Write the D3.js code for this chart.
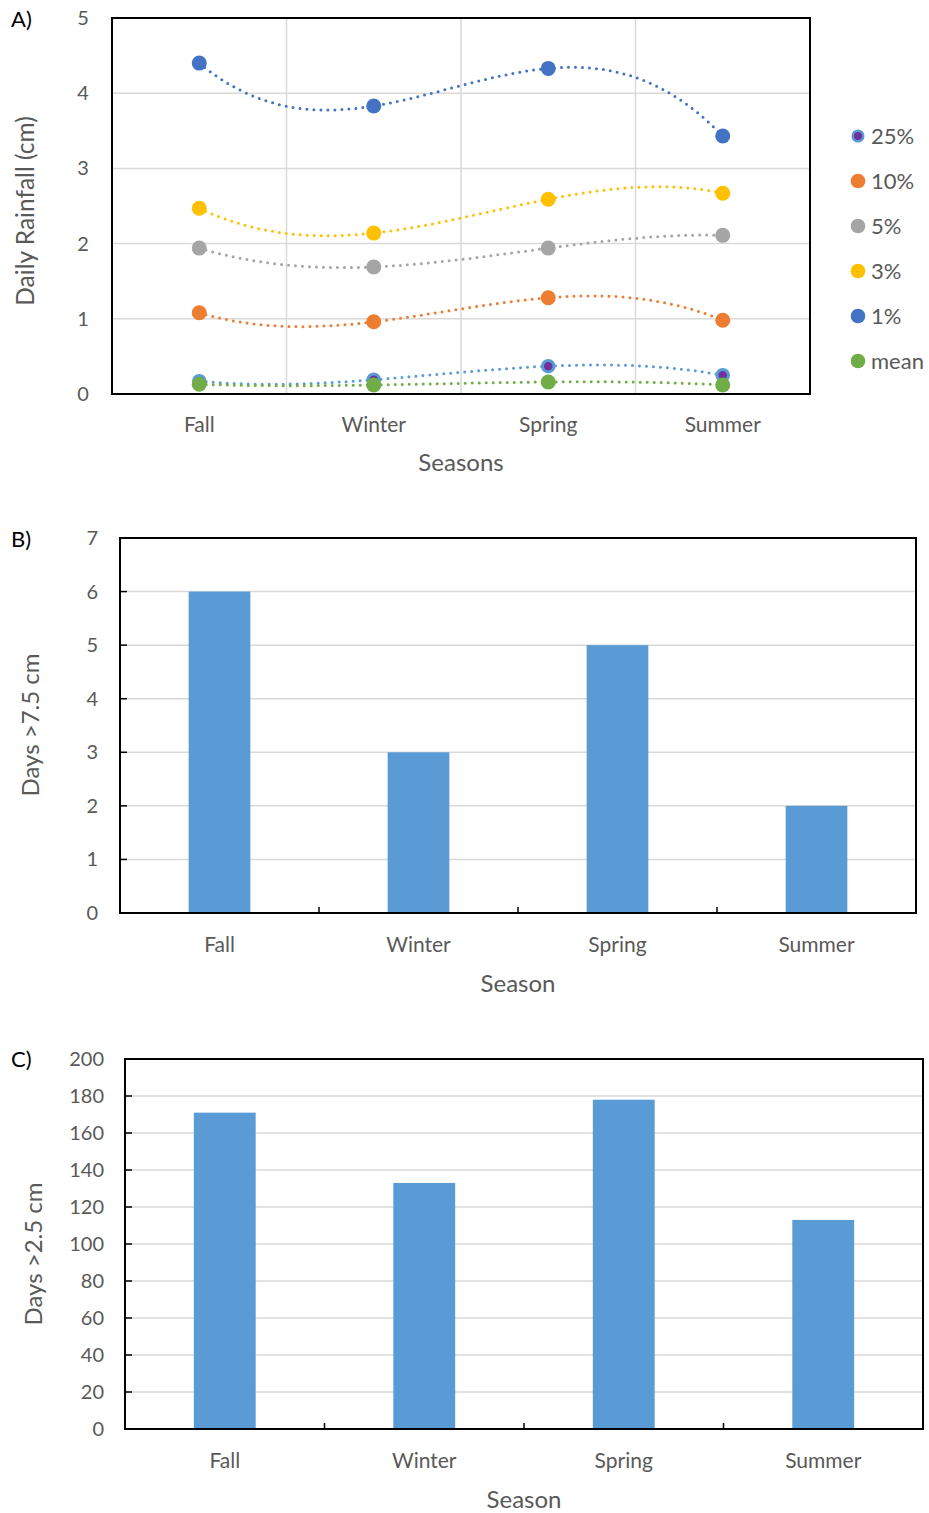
<!DOCTYPE html>
<html>
<head>
<meta charset="utf-8">
<script src="https://cdn.jsdelivr.net/npm/d3@7"></script>
<style>
  body { margin: 0; background: #fff; }
  svg text { font-family: Lato, "Open Sans", sans-serif; fill: #595959; }
</style>
</head>
<body>
<svg id="chart" width="929" height="1513"></svg>
<script>
const seasons = ["Fall", "Winter", "Spring", "Summer"];

// panel A: daily rainfall by exceedance level
const pct25 = [0.17, 0.19, 0.37, 0.25];
const pct10 = [1.08, 0.96, 1.28, 0.98];
const pct5 = [1.94, 1.69, 1.94, 2.11];
const pct3 = [2.47, 2.14, 2.59, 2.67];
const pct1 = [4.40, 3.83, 4.33, 3.43];
const meanRain = [0.13, 0.12, 0.16, 0.12];
const rainTicks = [0, 1, 2, 3, 4, 5];

// panel B and C
const daysOver75 = [6, 3, 5, 2];
const daysTicksB = [0, 1, 2, 3, 4, 5, 6, 7];
const daysOver25 = [171, 133, 178, 113];
const daysTicksC = [0, 20, 40, 60, 80, 100, 120, 140, 160, 180, 200];

const series = [
  { name: "25%", values: pct25, fill: "#7030A0", stroke: "#5B9BD5", line: "#5B9BD5" },
  { name: "10%", values: pct10, fill: "#ED7D31", stroke: "#ED7D31", line: "#ED7D31" },
  { name: "5%", values: pct5, fill: "#A5A5A5", stroke: "#A5A5A5", line: "#A5A5A5" },
  { name: "3%", values: pct3, fill: "#FFC000", stroke: "#FFC000", line: "#FFC000" },
  { name: "1%", values: pct1, fill: "#4472C4", stroke: "#4472C4", line: "#4472C4" },
  { name: "mean", values: meanRain, fill: "#70AD47", stroke: "#70AD47", line: "#70AD47" }
];

const svg = d3.select("#chart");

function panelLabel(text, y) {
  svg.append("text").attr("x", 11).attr("y", y).text(text)
    .style("font-size", "22px").style("fill", "#000");
}

// order-3 polynomial trendline: with 4 points it passes through all of them
function polyTrend(vals) {
  return t => d3.sum(vals, (v, i) => {
    let w = 1;
    vals.forEach((_, j) => { if (j !== i) w *= (t - j) / (i - j); });
    return v * w;
  });
}

// ---------- Panel A ----------
(function () {
  const left = 112, right = 810, top = 18, bottom = 394;
  const x = d3.scaleBand().domain(seasons).range([left, right]);
  const y = d3.scaleLinear().domain([0, 5]).range([bottom, top]);
  const xi = d3.scaleLinear().domain([0, seasons.length - 1])
    .range([x(seasons[0]) + x.bandwidth() / 2, x(seasons[seasons.length - 1]) + x.bandwidth() / 2]);
  const g = svg.append("g");

  // gridlines
  g.selectAll(".hgrid").data(rainTicks.slice(1)).enter().append("line")
    .attr("x1", left).attr("x2", right)
    .attr("y1", d => y(d)).attr("y2", d => y(d))
    .attr("stroke", "#d9d9d9").attr("stroke-width", 1.5);
  g.selectAll(".vgrid").data(seasons.slice(1)).enter().append("line")
    .attr("x1", d => x(d)).attr("x2", d => x(d))
    .attr("y1", top).attr("y2", bottom)
    .attr("stroke", "#d9d9d9").attr("stroke-width", 1.5);

  g.append("rect").attr("x", left).attr("y", top)
    .attr("width", right - left).attr("height", bottom - top)
    .attr("fill", "none").attr("stroke", "#000").attr("stroke-width", 2);

  // y labels
  g.selectAll(".ylab").data(rainTicks).enter().append("text")
    .attr("x", 83).attr("y", d => y(d)).attr("dy", "0.35em")
    .attr("text-anchor", "middle").style("font-size", "20px").text(d => d);

  // x labels
  g.selectAll(".xlab").data(seasons).enter().append("text")
    .attr("x", d => x(d) + x.bandwidth() / 2).attr("y", 432)
    .attr("text-anchor", "middle").style("font-size", "21px").text(d => d);

  g.append("text").attr("x", 461).attr("y", 471).attr("text-anchor", "middle")
    .style("font-size", "24px").text("Seasons");
  g.append("text").attr("transform", "translate(34,211) rotate(-90)")
    .attr("text-anchor", "middle").style("font-size", "24.5px").text("Daily Rainfall (cm)");

  const cx = (d, i) => x(seasons[i]) + x.bandwidth() / 2;
  const line = d3.line().x(d => xi(d[0])).y(d => y(d[1]));
  const ts = d3.range(0, seasons.length - 1 + 1e-9, 0.02);

  // dotted trendlines
  series.forEach(s => {
    const f = polyTrend(s.values);
    g.append("path").datum(ts.map(t => [t, f(t)])).attr("d", line)
      .attr("fill", "none").attr("stroke", s.line).attr("stroke-width", 3)
      .attr("stroke-linecap", "round").attr("stroke-dasharray", "0 7");
  });
  // markers
  series.forEach(s => {
    const ring = s.name === "25%";
    g.selectAll(null).data(s.values).enter().append("circle")
      .attr("cx", cx).attr("cy", d => y(d)).attr("r", ring ? 5.8 : 7.5)
      .attr("fill", s.fill).attr("stroke", s.stroke)
      .attr("stroke-width", ring ? 3 : 0);
  });

  // legend
  const leg = g.selectAll(".leg").data(series).enter().append("g")
    .attr("transform", (d, i) => `translate(858,${136 + i * 45})`);
  leg.append("circle").attr("r", d => d.name === "25%" ? 5.3 : 7.3)
    .attr("fill", d => d.fill).attr("stroke", d => d.stroke)
    .attr("stroke-width", d => d.name === "25%" ? 2.5 : 0);
  leg.append("text").attr("x", 13).attr("dy", "0.36em")
    .style("font-size", "22px").text(d => d.name);

  panelLabel("A)", 27);
})();

// ---------- Bar panels ----------
function barPanel(opts) {
  const { left, right, top, bottom, values, ticks, max, title, titleY, ylabX, letter, letterY } = opts;
  const x = d3.scaleBand().domain(seasons).range([left, right]);
  const y = d3.scaleLinear().domain([0, max]).range([bottom, top]);
  const g = svg.append("g");

  g.selectAll(".hgrid").data(ticks.slice(1, -1)).enter().append("line")
    .attr("x1", left).attr("x2", right)
    .attr("y1", d => y(d)).attr("y2", d => y(d))
    .attr("stroke", "#d9d9d9").attr("stroke-width", 1.5);

  const bw = x.bandwidth() * 0.31;
  g.selectAll(".bar").data(values).enter().append("rect")
    .attr("x", (d, i) => x(seasons[i]) + x.bandwidth() / 2 - bw / 2)
    .attr("width", bw)
    .attr("y", d => y(d)).attr("height", d => y(0) - y(d))
    .attr("fill", "#5B9BD5");

  g.append("rect").attr("x", left).attr("y", top)
    .attr("width", right - left).attr("height", bottom - top)
    .attr("fill", "none").attr("stroke", "#000").attr("stroke-width", 2);

  // inside ticks
  g.selectAll(".ytick").data(ticks.slice(1, -1)).enter().append("line")
    .attr("x1", left).attr("x2", left + 7)
    .attr("y1", d => y(d)).attr("y2", d => y(d))
    .attr("stroke", "#000").attr("stroke-width", 1.5);
  g.selectAll(".xtick").data(seasons.slice(1)).enter().append("line")
    .attr("x1", d => x(d)).attr("x2", d => x(d))
    .attr("y1", bottom).attr("y2", bottom - 6)
    .attr("stroke", "#000").attr("stroke-width", 1.5);

  g.selectAll(".ylab").data(ticks).enter().append("text")
    .attr("x", ylabX).attr("y", d => y(d)).attr("dy", "0.35em")
    .attr("text-anchor", "end").style("font-size", "20px").text(d => d);

  g.selectAll(".xlab").data(seasons).enter().append("text")
    .attr("x", d => x(d) + x.bandwidth() / 2).attr("y", bottom + 39)
    .attr("text-anchor", "middle").style("font-size", "21px").text(d => d);

  g.append("text").attr("x", (left + right) / 2).attr("y", bottom + 79)
    .attr("text-anchor", "middle").style("font-size", "24px").text("Season");
  g.append("text").attr("transform", `translate(${opts.titleX},${titleY}) rotate(-90)`)
    .attr("text-anchor", "middle").style("font-size", "24px").text(title);

  panelLabel(letter, letterY);
}

barPanel({
  left: 120, right: 916, top: 538, bottom: 913, values: daysOver75, ticks: daysTicksB, max: 7,
  title: "Days >7.5 cm", titleX: 39, titleY: 725, ylabX: 98, letter: "B)", letterY: 547
});

barPanel({
  left: 125, right: 923, top: 1059, bottom: 1429, values: daysOver25, ticks: daysTicksC, max: 200,
  title: "Days >2.5 cm", titleX: 42, titleY: 1254, ylabX: 104, letter: "C)", letterY: 1067
});
</script>
</body>
</html>
